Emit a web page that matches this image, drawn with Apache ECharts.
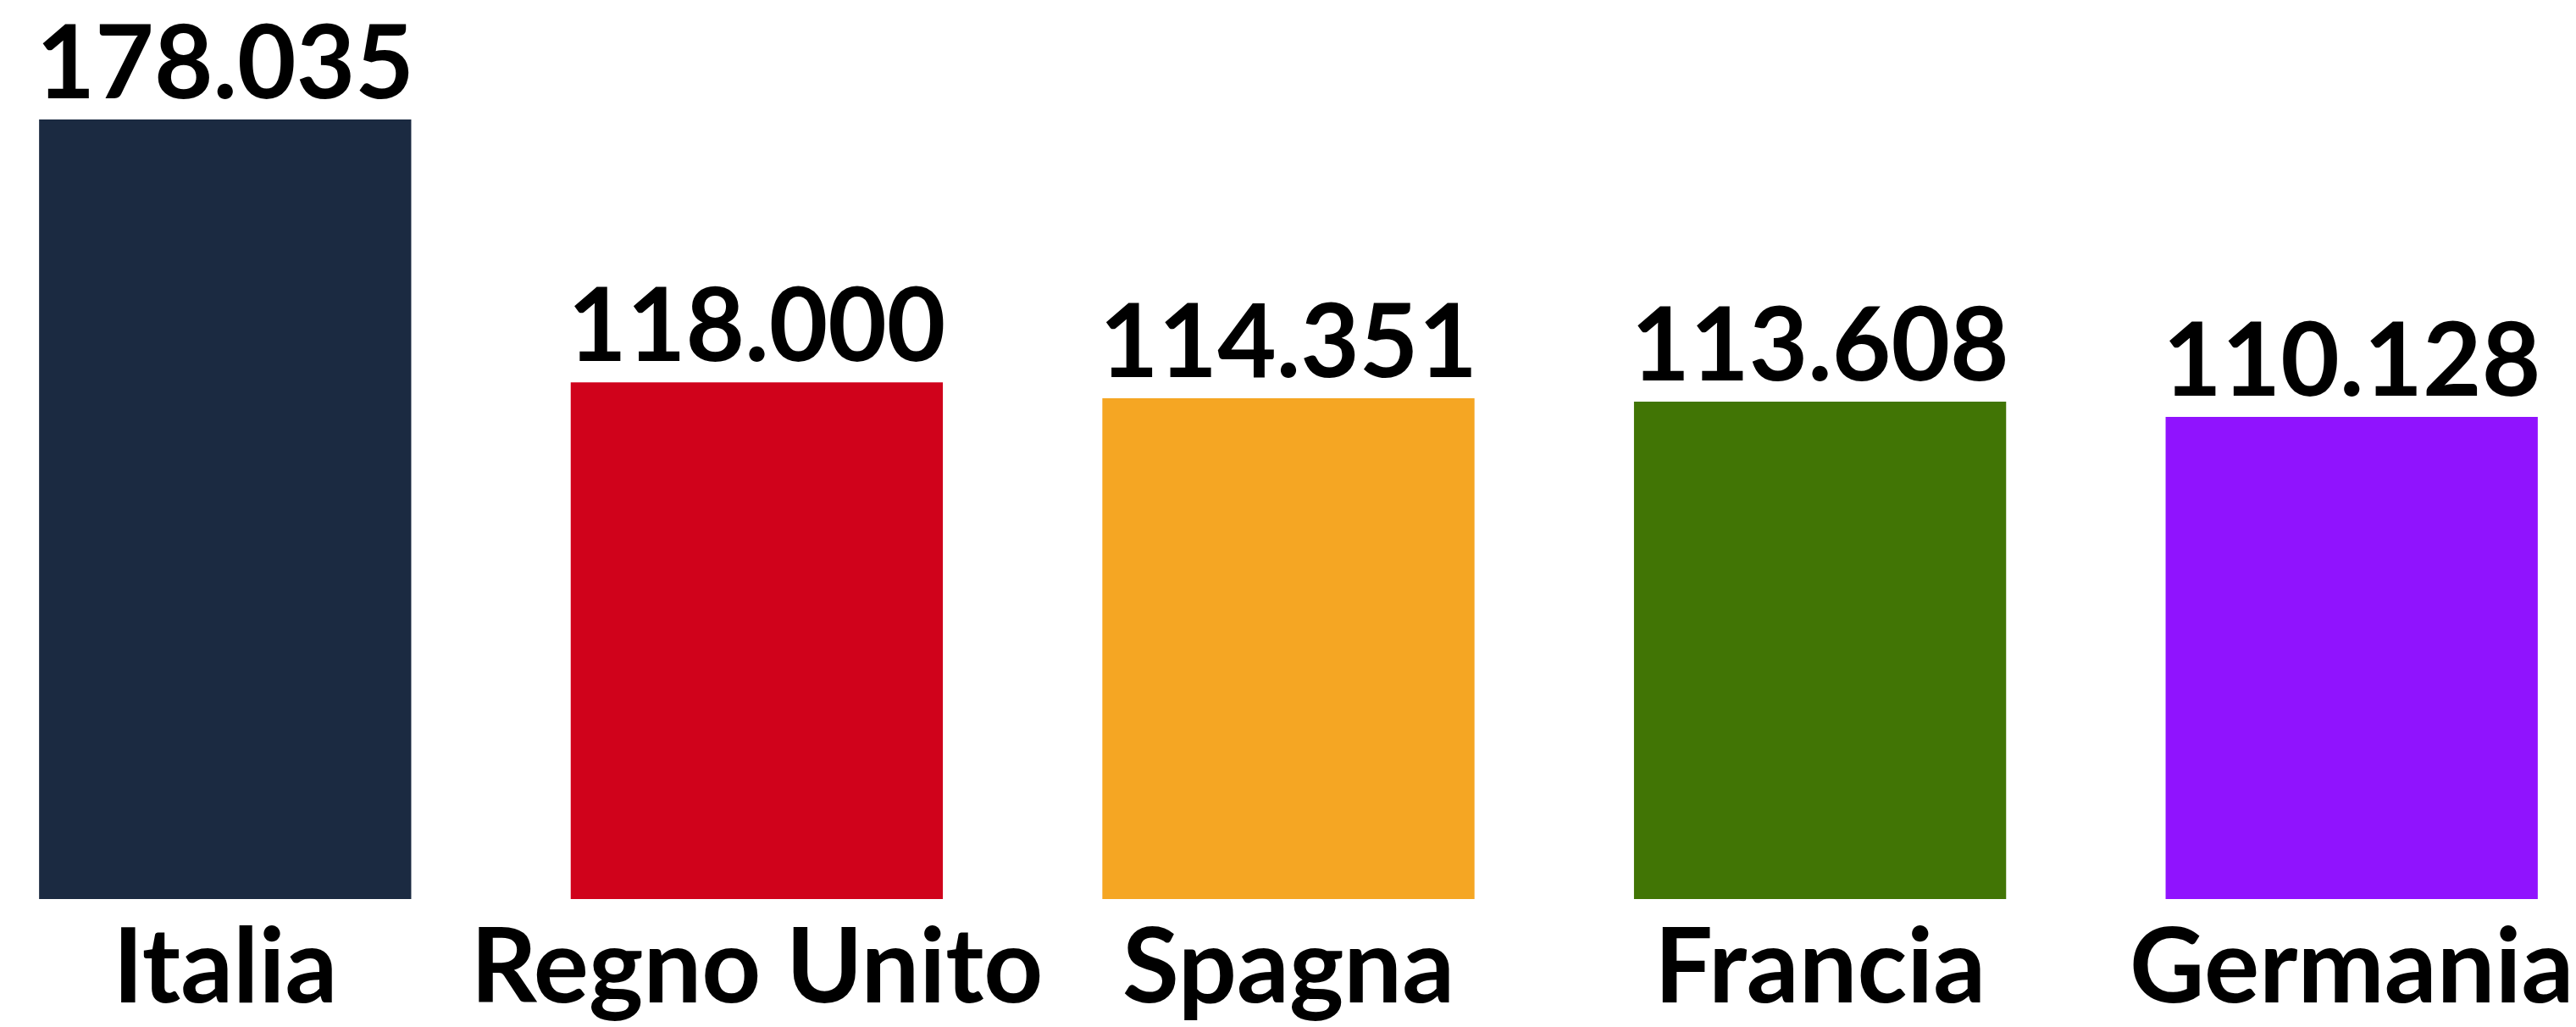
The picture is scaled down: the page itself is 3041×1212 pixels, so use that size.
<!DOCTYPE html>
<html>
<head>
<meta charset="utf-8">
<script src="https://cdn.jsdelivr.net/npm/echarts@6/dist/echarts.min.js"></script>
<style>
  html, body { margin: 0; padding: 0; background: #fff; }
  #chart { width: 3041px; height: 1212px; }
</style>
</head>
<body>
<div id="chart"></div>
<script>
// paesi e valori
var categories = ['Italia', 'Regno Unito', 'Spagna', 'Francia', 'Germania']
var values = [178035, 118000, 114351, 113608, 110128]
var barColors = ['#1b2a41', '#d0021b', '#f5a623', '#417505', '#9013fe']

// 178035 -> "178.035"
function fmt(v) {
  return String(v).replace(/\B(?=(\d{3})+(?!\d))/g, '.')
}

var chart = echarts.init(document.getElementById('chart'))
var option = {
  animation: false,
  grid: {
    top: 141,
    left: -48,
    right: -49,
    bottom: 151,
    containLabel: false,
    outerBoundsMode: 'none'
  },
  xAxis: {
    type: 'category',
    data: categories,
    axisLine: { show: false },
    axisTick: { show: false },
    axisLabel: {
      interval: 0,
      margin: 22,
      color: '#000',
      fontFamily: 'Lato',
      fontWeight: 'bold',
      fontSize: 122
    }
  },
  yAxis: {
    type: 'value',
    min: 0,
    max: 178035,
    show: false,
    splitLine: { show: false }
  },
  series: [
    {
      type: 'bar',
      barCategoryGap: '30%',
      data: values.map(function(v, i) {
        return { value: v, itemStyle: { color: barColors[i] } }
      }),
      label: {
        show: true,
        position: 'top',
        distance: 4,
        color: '#000',
        fontFamily: 'Lato',
        fontWeight: 'bold',
        fontSize: 120,
        formatter: function(p) { return fmt(p.value) }
      }
    }
  ]
}
chart.setOption(option)
window.addEventListener('resize', function() { chart.resize() })
</script>
</body>
</html>
